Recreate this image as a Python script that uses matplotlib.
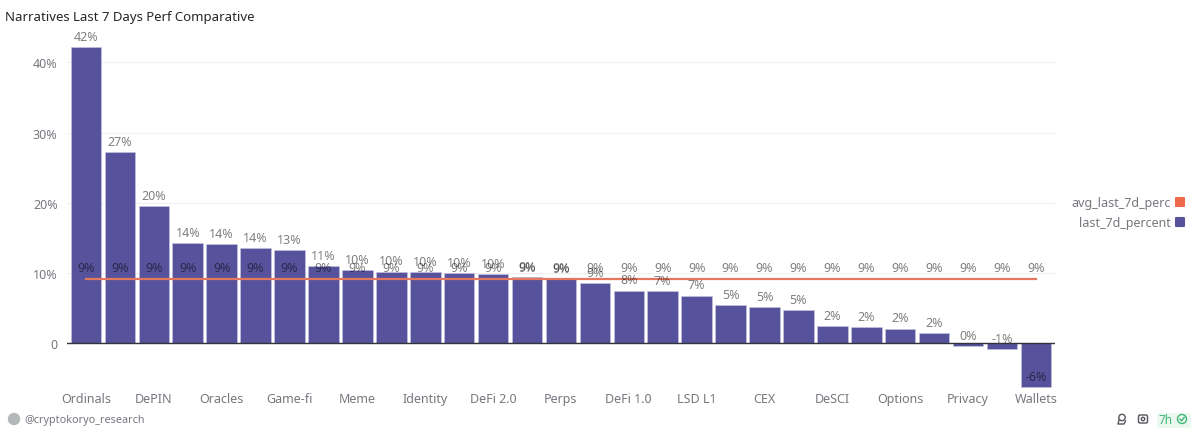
import matplotlib
matplotlib.use('Agg')
import matplotlib.pyplot as plt
from matplotlib.lines import Line2D
from matplotlib.markers import MarkerStyle
from matplotlib.patches import Circle, FancyBboxPatch

plt.rcParams['font.family'] = ['Noto Sans', 'DejaVu Sans']

# only every second category name is shown on the axis
categories = ['Ordinals', 'DePIN', 'Oracles', 'Game-fi', 'Meme', 'Identity', 'DeFi 2.0', 'Perps',
              'DeFi 1.0', 'LSD L1', 'CEX', 'DeSCI', 'Options', 'Privacy', 'Wallets']
last_7d_percent = [42.2, 27.2, 19.55, 14.3, 14.1, 13.55, 13.3, 11.0, 10.4, 10.2, 10.1, 9.97, 9.9, 9.44, 9.1,
                   8.6, 7.5, 7.4, 6.8, 5.4, 5.1, 4.7, 2.4, 2.3, 2.1, 1.5, -0.35, -0.8, -6.2]
avg_last_7d_perc = [9.15] * 29
y_ticks = [0, 10, 20, 30, 40]
y_tick_labels = ['0', '10%', '20%', '30%', '40%']

BAR = '#56529b'
AVG = '#e5775f'
GRAY = '#77777f'
W, H = 1200, 435

fig = plt.figure(figsize=(W / 100, H / 100), dpi=100, facecolor='white')
# axes placed so that 0 falls on y=344.3 and 10% is 70.2 px
ax = fig.add_axes([67.3 / W, (H - 393.4) / H, (1054.6 - 67.3) / W, (393.4 - 35.4) / H])

x = list(range(len(last_7d_percent)))
ax.bar(x, last_7d_percent, width=0.9, color=BAR, edgecolor='#c9c8e2', linewidth=0.4, zorder=2)
ax.plot(x, avg_last_7d_perc, color=AVG, linewidth=1.6, zorder=3)

ax.set_xlim(-0.55, 28.55)
ax.set_ylim(-7, 44)
ax.set_yticks(y_ticks)
ax.set_yticklabels(y_tick_labels)
ax.set_xticks(x[::2])
ax.set_xticklabels(categories)
ax.tick_params(axis='both', length=0, labelsize=9, labelcolor=GRAY)
ax.tick_params(axis='y', pad=7)
ax.tick_params(axis='x', pad=0)
ax.grid(axis='y', color='#f0f0f2', linewidth=0.8, zorder=0)
for side in ax.spines:
    ax.spines[side].set_visible(False)
ax.axhline(0, color='#33333d', linewidth=1.0, zorder=4)

for i, v in zip(x, last_7d_percent):
    ax.annotate(f'{int(round(v))}%', (i, v), xytext=(0, 7.7), textcoords='offset points',
                ha='center', va='center', fontsize=9, color='black', alpha=0.5, zorder=5)
for i, v in zip(x, avg_last_7d_perc):
    ax.annotate(f'{int(round(v))}%', (i, v), xytext=(0, 8.1), textcoords='offset points',
                ha='center', va='center', fontsize=9, color='black', alpha=0.5, zorder=5)

handles = [
    Line2D([], [], linestyle='none', marker=MarkerStyle('s', joinstyle='round'), markersize=6,
           markeredgewidth=1.5, color='#ef6a4c', label='avg_last_7d_perc'),
    Line2D([], [], linestyle='none', marker=MarkerStyle('s', joinstyle='round'), markersize=6,
           markeredgewidth=1.5, color=BAR, label='last_7d_percent'),
]
fig.legend(handles=handles, loc='center right', bbox_to_anchor=(1187 / W, (H - 213.5) / H), frameon=False,
           markerfirst=False, alignment='right', fontsize=9, labelcolor=GRAY, labelspacing=0.55,
           handletextpad=0.1, handlelength=1.2, borderpad=0, borderaxespad=0)

fig.text(5 / W, (H - 17) / H, 'Narratives Last 7 Days Perf Comparative', fontsize=9.5, fontweight='semibold',
         color='#26262b', va='center')
fig.text(24 / W, (H - 420.5) / H, '@cryptokoryo_research', fontsize=7.8, color=GRAY, va='center')

# footer bits drawn in pixel coordinates
overlay = fig.add_axes([0, 0, 1, 1], facecolor='none')
overlay.set_xlim(0, W)
overlay.set_ylim(H, 0)
overlay.axis('off')
overlay.add_patch(Circle((14, 420), 5.5, color='#b5b8b8'))
overlay.add_patch(FancyBboxPatch((1157, 414), 34, 15, boxstyle='round,pad=0,rounding_size=3',
                                 facecolor='#eaf8ef', edgecolor='none'))
overlay.text(1166, 420.5, '7h', fontsize=8.5, color='#3fb877', ha='center', va='center')
overlay.add_patch(Circle((1182, 420), 4.5, facecolor='none', edgecolor='#3fb877', linewidth=1))
overlay.plot([1180, 1181.6, 1184.2], [420.2, 421.8, 418.4], color='#3fb877', linewidth=1)
# camera
overlay.add_patch(FancyBboxPatch((1138.5, 416), 9, 8, boxstyle='round,pad=0,rounding_size=1.5',
                                 facecolor='none', edgecolor='#55555c', linewidth=1))
overlay.add_patch(Circle((1143, 420), 1.7, facecolor='none', edgecolor='#55555c', linewidth=1))
# share/pin icon
overlay.add_patch(Circle((1122, 418.5), 3.2, facecolor='none', edgecolor='#55555c', linewidth=1))
overlay.plot([1119, 1118, 1124, 1125.5], [421, 425, 425, 422], color='#55555c', linewidth=1)

fig.savefig('out.png', dpi=100)
